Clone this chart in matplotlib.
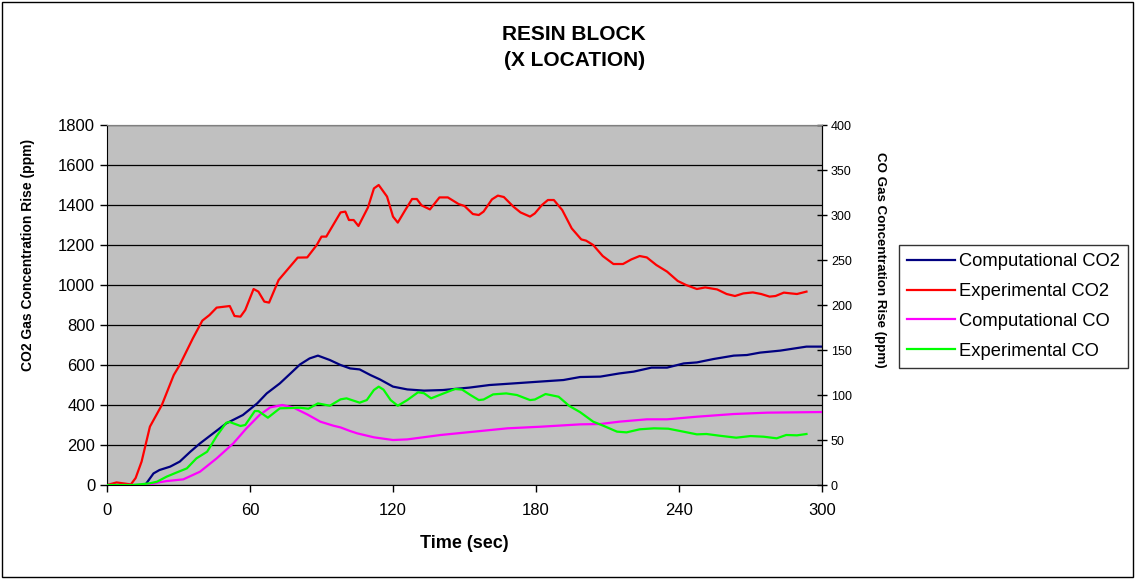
import matplotlib.pyplot as plt
from matplotlib.patches import Rectangle

plt.rcParams['font.family'] = ['Liberation Sans', 'DejaVu Sans']

# Computational CO2 (left axis)
comp_co2_t = [0, 16, 19.5, 22, 26.5, 30.5, 35, 39, 44.5, 50, 57, 63, 67, 72.5, 77, 81, 85, 88.5,
              93.5, 98, 102, 106, 110.5, 114.5, 120, 126, 133, 141, 152, 160.5, 170.5, 181.5,
              191.5, 198.5, 207, 215, 221, 228.5, 235, 242, 247.5, 254.5, 263, 268.5, 274,
              282.5, 288, 293.5, 300]
comp_co2 = [0, 0, 58, 75, 92, 117, 167, 208, 258, 308, 350, 408, 458, 508, 558, 603, 633, 647,
            625, 600, 583, 578, 550, 528, 492, 478, 472, 475, 487, 500, 508, 517,
            525, 540, 542, 558, 567, 587, 587, 608, 613, 630, 647, 650, 662,
            672, 682, 692, 692]

# Experimental CO2 (left axis)
exp_co2_t = [0, 4, 10, 12, 14.5, 18, 23, 28, 30.5, 36, 40, 43, 46, 51.5, 53.5, 56, 58, 61.5,
             63.5, 66, 68, 72, 75, 80, 84, 88, 90, 92, 98, 100, 101.5, 103.5, 105.5, 109.5,
             112, 114, 117.5, 120, 122, 125, 128, 130, 132, 135.5, 139.5, 143, 147.5, 150,
             153.5, 156, 158, 161.5, 164, 166.5, 170.5, 173.5, 177.5, 179.5, 182.5, 185,
             187.5, 191, 195, 199, 201, 204, 208, 212.5, 216.5, 220, 223.5, 226.5, 230.5,
             235, 239.5, 243, 247.5, 251, 256, 260, 263.5, 267, 271, 274.5, 278, 280.5,
             284, 287, 289.5, 293.5]
exp_co2 = [0, 13, 3, 35, 117, 292, 400, 550, 600, 733, 822, 850, 887, 895, 845, 842, 875, 980,
           967, 917, 912, 1025, 1067, 1137, 1138, 1200, 1242, 1242, 1363, 1367, 1325, 1325, 1295, 1388,
           1483, 1500, 1442, 1342, 1312, 1372, 1430, 1430, 1398, 1378, 1438, 1438, 1405, 1395,
           1355, 1350, 1367, 1428, 1447, 1440, 1392, 1363, 1342, 1358, 1400, 1425,
           1425, 1375, 1283, 1228, 1222, 1200, 1145, 1105, 1105, 1128, 1145, 1138, 1100,
           1067, 1020, 1000, 980, 988, 978, 955, 945, 958, 963, 955, 942, 945,
           962, 958, 955, 967]

# Computational CO (right axis)
comp_co_t = [0, 17, 21, 25, 32, 39, 46, 53, 58.5, 64, 68.5, 73.5, 78, 84, 89.5, 95, 98, 102,
             105, 112, 120, 126, 140, 154, 168, 182, 198.5, 207, 215, 226.5, 235, 247.5,
             263, 277, 300]
comp_co = [0, 0, 2.6, 4.4, 6.3, 14.8, 29.6, 46.3, 63, 77.8, 86.3, 88.9, 86.3, 78.5, 70.4, 65.9, 64, 60,
           57.4, 53, 50, 50.7, 55.6, 59.3, 63, 64.8, 67.4, 67.8, 70.4, 73, 73, 75.9,
           78.9, 80.4, 81.1]

# Experimental CO (right axis)
exp_co_t = [0, 11, 18, 21, 25, 29, 33.5, 37.5, 42, 46, 50, 51.5, 56, 58, 62, 63.5, 67.5, 72.5,
            81, 84.5, 88.5, 93.5, 98, 100.5, 106, 109, 112, 114, 116, 119, 122, 126, 130.5,
            133, 136, 139.5, 146, 149, 152.5, 156, 158, 162, 167.5, 172, 177.5, 179.5, 184,
            189.5, 194, 198.5, 204, 208.5, 214, 218, 223.5, 229.5, 235.5, 240.5, 247.5,
            251.5, 257, 264, 270, 275.5, 281, 285, 289.5, 293.5]
exp_co = [0, 0, 1.9, 3.7, 9.3, 13.7, 18.5, 29.6, 37, 54.4, 69.2, 70, 65.6, 66.7, 82.2, 82.2, 74.8, 85.2,
          85.9, 84.8, 90.7, 88.1, 95.2, 96.3, 91.5, 94.4, 105.6, 109.3, 106, 94.4, 88.1, 94.4, 103,
          102, 96.3, 100, 106.7, 106, 100, 94.4, 95, 100.7, 101.8, 100, 94.4, 95, 101.1,
          98.1, 87.8, 81, 70.4, 65.6, 59.3, 58.5, 61.9, 63, 62.6, 60, 56.3,
          56.7, 54.8, 52.6, 54.4, 53.7, 51.9, 55.6, 55.2, 56.7]

fig = plt.figure(figsize=(11.35, 5.79), dpi=100)
fig.patches.append(Rectangle((0.002, 0.003), 0.996, 0.993, transform=fig.transFigure,
                             fill=False, edgecolor='black', linewidth=1))

ax = fig.add_axes([0.0943, 0.1623, 0.6299, 0.6218])
ax.set_facecolor('#C0C0C0')
ax2 = ax.twinx()

l1, = ax.plot(comp_co2_t, comp_co2, color='#000080', linewidth=1.6, label='Computational CO2')
l2, = ax.plot(exp_co2_t, exp_co2, color='#FF0000', linewidth=1.6, label='Experimental CO2')
l3, = ax2.plot(comp_co_t, comp_co, color='#FF00FF', linewidth=1.6, label='Computational CO')
l4, = ax2.plot(exp_co_t, exp_co, color='#00FF00', linewidth=1.6, label='Experimental CO')

ax.set_xlim(0, 300)
ax.set_ylim(0, 1800)
ax2.set_ylim(0, 400)
ax.set_xticks(range(0, 301, 60))
ax.set_yticks(range(0, 1801, 200))
ax2.set_yticks(range(0, 401, 50))

ax.grid(axis='y', color='black', linewidth=0.9)
ax.set_axisbelow(True)

ax.tick_params(axis='both', labelsize=12, direction='out', length=5, width=1, colors='black')
ax.tick_params(axis='x', pad=8)
ax2.tick_params(axis='y', labelsize=9, direction='inout', length=7, width=1, pad=3)

for s in ['left', 'bottom']:
    ax.spines[s].set_color('black')
ax.spines['top'].set_color('#808080')
ax2.spines['top'].set_color('#808080')
ax2.spines['right'].set_color('black')
ax2.spines['left'].set_visible(False)
ax2.spines['bottom'].set_visible(False)

ax.set_xlabel('Time (sec)', fontsize=13, fontweight='bold', labelpad=12)
ax.set_ylabel('CO2 Gas Concentration Rise (ppm)', fontsize=10, fontweight='bold')
ax.yaxis.set_label_coords(-0.101, 0.64)
ax2.set_ylabel('CO Gas Concentration Rise (ppm)', fontsize=9.6, fontweight='bold', rotation=270)
ax2.yaxis.set_label_coords(1.089, 0.625)

fig.text(0.506, 0.941, 'RESIN BLOCK', ha='center', va='center', fontsize=15, fontweight='bold')
fig.text(0.506, 0.895, '(X LOCATION)', ha='center', va='center', fontsize=15, fontweight='bold')

leg = fig.legend(handles=[l1, l2, l3, l4], loc='upper left', bbox_to_anchor=(0.792, 0.577),
                 fontsize=13.2, frameon=True, fancybox=False, handlelength=2.6,
                 handletextpad=0.2, labelspacing=0.7, borderpad=0.45, borderaxespad=0)
leg.get_frame().set_edgecolor('black')
leg.get_frame().set_linewidth(1)

plt.savefig('out.png', dpi=100)
